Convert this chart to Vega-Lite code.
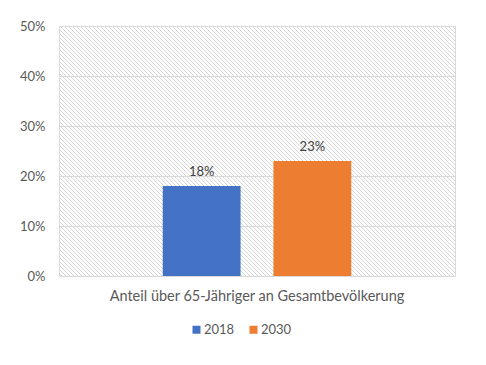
{
"$schema": "https://vega.github.io/schema/vega-lite/v6.json",
"width": 396,
"height": 250,
"autosize": {"type": "none"},
"padding": {"left": 59, "top": 26, "right": 31, "bottom": 89},
"background": "#ffffff",
"config": {
"font": "Lato",
"view": {"stroke": "#d9d9d9", "strokeWidth": 1, "fill": {"gradient": "linear", "x1": 0, "y1": 1, "x2": 1.4445, "y2": 0.0881, "stops": [
{"offset":0.00,"color":"#fff"},{"offset":0.0025,"color":"#fff"},{"offset":0.00375,"color":"#d6d6d6"},{"offset":0.005,"color":"#fff"},{"offset":0.0075,"color":"#fff"},{"offset":0.00875,"color":"#d6d6d6"},
{"offset":0.01,"color":"#fff"},{"offset":0.0125,"color":"#fff"},{"offset":0.01375,"color":"#d6d6d6"},{"offset":0.015,"color":"#fff"},{"offset":0.0175,"color":"#fff"},{"offset":0.01875,"color":"#d6d6d6"},
{"offset":0.02,"color":"#fff"},{"offset":0.0225,"color":"#fff"},{"offset":0.02375,"color":"#d6d6d6"},{"offset":0.025,"color":"#fff"},{"offset":0.0275,"color":"#fff"},{"offset":0.02875,"color":"#d6d6d6"},
{"offset":0.03,"color":"#fff"},{"offset":0.0325,"color":"#fff"},{"offset":0.03375,"color":"#d6d6d6"},{"offset":0.035,"color":"#fff"},{"offset":0.0375,"color":"#fff"},{"offset":0.03875,"color":"#d6d6d6"},
{"offset":0.04,"color":"#fff"},{"offset":0.0425,"color":"#fff"},{"offset":0.04375,"color":"#d6d6d6"},{"offset":0.045,"color":"#fff"},{"offset":0.0475,"color":"#fff"},{"offset":0.04875,"color":"#d6d6d6"},
{"offset":0.05,"color":"#fff"},{"offset":0.0525,"color":"#fff"},{"offset":0.05375,"color":"#d6d6d6"},{"offset":0.055,"color":"#fff"},{"offset":0.0575,"color":"#fff"},{"offset":0.05875,"color":"#d6d6d6"},
{"offset":0.06,"color":"#fff"},{"offset":0.0625,"color":"#fff"},{"offset":0.06375,"color":"#d6d6d6"},{"offset":0.065,"color":"#fff"},{"offset":0.0675,"color":"#fff"},{"offset":0.06875,"color":"#d6d6d6"},
{"offset":0.07,"color":"#fff"},{"offset":0.0725,"color":"#fff"},{"offset":0.07375,"color":"#d6d6d6"},{"offset":0.075,"color":"#fff"},{"offset":0.0775,"color":"#fff"},{"offset":0.07875,"color":"#d6d6d6"},
{"offset":0.08,"color":"#fff"},{"offset":0.0825,"color":"#fff"},{"offset":0.08375,"color":"#d6d6d6"},{"offset":0.085,"color":"#fff"},{"offset":0.0875,"color":"#fff"},{"offset":0.08875,"color":"#d6d6d6"},
{"offset":0.09,"color":"#fff"},{"offset":0.0925,"color":"#fff"},{"offset":0.09375,"color":"#d6d6d6"},{"offset":0.095,"color":"#fff"},{"offset":0.0975,"color":"#fff"},{"offset":0.09875,"color":"#d6d6d6"},
{"offset":0.10,"color":"#fff"},{"offset":0.1025,"color":"#fff"},{"offset":0.10375,"color":"#d6d6d6"},{"offset":0.105,"color":"#fff"},{"offset":0.1075,"color":"#fff"},{"offset":0.10875,"color":"#d6d6d6"},
{"offset":0.11,"color":"#fff"},{"offset":0.1125,"color":"#fff"},{"offset":0.11375,"color":"#d6d6d6"},{"offset":0.115,"color":"#fff"},{"offset":0.1175,"color":"#fff"},{"offset":0.11875,"color":"#d6d6d6"},
{"offset":0.12,"color":"#fff"},{"offset":0.1225,"color":"#fff"},{"offset":0.12375,"color":"#d6d6d6"},{"offset":0.125,"color":"#fff"},{"offset":0.1275,"color":"#fff"},{"offset":0.12875,"color":"#d6d6d6"},
{"offset":0.13,"color":"#fff"},{"offset":0.1325,"color":"#fff"},{"offset":0.13375,"color":"#d6d6d6"},{"offset":0.135,"color":"#fff"},{"offset":0.1375,"color":"#fff"},{"offset":0.13875,"color":"#d6d6d6"},
{"offset":0.14,"color":"#fff"},{"offset":0.1425,"color":"#fff"},{"offset":0.14375,"color":"#d6d6d6"},{"offset":0.145,"color":"#fff"},{"offset":0.1475,"color":"#fff"},{"offset":0.14875,"color":"#d6d6d6"},
{"offset":0.15,"color":"#fff"},{"offset":0.1525,"color":"#fff"},{"offset":0.15375,"color":"#d6d6d6"},{"offset":0.155,"color":"#fff"},{"offset":0.1575,"color":"#fff"},{"offset":0.15875,"color":"#d6d6d6"},
{"offset":0.16,"color":"#fff"},{"offset":0.1625,"color":"#fff"},{"offset":0.16375,"color":"#d6d6d6"},{"offset":0.165,"color":"#fff"},{"offset":0.1675,"color":"#fff"},{"offset":0.16875,"color":"#d6d6d6"},
{"offset":0.17,"color":"#fff"},{"offset":0.1725,"color":"#fff"},{"offset":0.17375,"color":"#d6d6d6"},{"offset":0.175,"color":"#fff"},{"offset":0.1775,"color":"#fff"},{"offset":0.17875,"color":"#d6d6d6"},
{"offset":0.18,"color":"#fff"},{"offset":0.1825,"color":"#fff"},{"offset":0.18375,"color":"#d6d6d6"},{"offset":0.185,"color":"#fff"},{"offset":0.1875,"color":"#fff"},{"offset":0.18875,"color":"#d6d6d6"},
{"offset":0.19,"color":"#fff"},{"offset":0.1925,"color":"#fff"},{"offset":0.19375,"color":"#d6d6d6"},{"offset":0.195,"color":"#fff"},{"offset":0.1975,"color":"#fff"},{"offset":0.19875,"color":"#d6d6d6"},
{"offset":0.20,"color":"#fff"},{"offset":0.2025,"color":"#fff"},{"offset":0.20375,"color":"#d6d6d6"},{"offset":0.205,"color":"#fff"},{"offset":0.2075,"color":"#fff"},{"offset":0.20875,"color":"#d6d6d6"},
{"offset":0.21,"color":"#fff"},{"offset":0.2125,"color":"#fff"},{"offset":0.21375,"color":"#d6d6d6"},{"offset":0.215,"color":"#fff"},{"offset":0.2175,"color":"#fff"},{"offset":0.21875,"color":"#d6d6d6"},
{"offset":0.22,"color":"#fff"},{"offset":0.2225,"color":"#fff"},{"offset":0.22375,"color":"#d6d6d6"},{"offset":0.225,"color":"#fff"},{"offset":0.2275,"color":"#fff"},{"offset":0.22875,"color":"#d6d6d6"},
{"offset":0.23,"color":"#fff"},{"offset":0.2325,"color":"#fff"},{"offset":0.23375,"color":"#d6d6d6"},{"offset":0.235,"color":"#fff"},{"offset":0.2375,"color":"#fff"},{"offset":0.23875,"color":"#d6d6d6"},
{"offset":0.24,"color":"#fff"},{"offset":0.2425,"color":"#fff"},{"offset":0.24375,"color":"#d6d6d6"},{"offset":0.245,"color":"#fff"},{"offset":0.2475,"color":"#fff"},{"offset":0.24875,"color":"#d6d6d6"},
{"offset":0.25,"color":"#fff"},{"offset":0.2525,"color":"#fff"},{"offset":0.25375,"color":"#d6d6d6"},{"offset":0.255,"color":"#fff"},{"offset":0.2575,"color":"#fff"},{"offset":0.25875,"color":"#d6d6d6"},
{"offset":0.26,"color":"#fff"},{"offset":0.2625,"color":"#fff"},{"offset":0.26375,"color":"#d6d6d6"},{"offset":0.265,"color":"#fff"},{"offset":0.2675,"color":"#fff"},{"offset":0.26875,"color":"#d6d6d6"},
{"offset":0.27,"color":"#fff"},{"offset":0.2725,"color":"#fff"},{"offset":0.27375,"color":"#d6d6d6"},{"offset":0.275,"color":"#fff"},{"offset":0.2775,"color":"#fff"},{"offset":0.27875,"color":"#d6d6d6"},
{"offset":0.28,"color":"#fff"},{"offset":0.2825,"color":"#fff"},{"offset":0.28375,"color":"#d6d6d6"},{"offset":0.285,"color":"#fff"},{"offset":0.2875,"color":"#fff"},{"offset":0.28875,"color":"#d6d6d6"},
{"offset":0.29,"color":"#fff"},{"offset":0.2925,"color":"#fff"},{"offset":0.29375,"color":"#d6d6d6"},{"offset":0.295,"color":"#fff"},{"offset":0.2975,"color":"#fff"},{"offset":0.29875,"color":"#d6d6d6"},
{"offset":0.30,"color":"#fff"},{"offset":0.3025,"color":"#fff"},{"offset":0.30375,"color":"#d6d6d6"},{"offset":0.305,"color":"#fff"},{"offset":0.3075,"color":"#fff"},{"offset":0.30875,"color":"#d6d6d6"},
{"offset":0.31,"color":"#fff"},{"offset":0.3125,"color":"#fff"},{"offset":0.31375,"color":"#d6d6d6"},{"offset":0.315,"color":"#fff"},{"offset":0.3175,"color":"#fff"},{"offset":0.31875,"color":"#d6d6d6"},
{"offset":0.32,"color":"#fff"},{"offset":0.3225,"color":"#fff"},{"offset":0.32375,"color":"#d6d6d6"},{"offset":0.325,"color":"#fff"},{"offset":0.3275,"color":"#fff"},{"offset":0.32875,"color":"#d6d6d6"},
{"offset":0.33,"color":"#fff"},{"offset":0.3325,"color":"#fff"},{"offset":0.33375,"color":"#d6d6d6"},{"offset":0.335,"color":"#fff"},{"offset":0.3375,"color":"#fff"},{"offset":0.33875,"color":"#d6d6d6"},
{"offset":0.34,"color":"#fff"},{"offset":0.3425,"color":"#fff"},{"offset":0.34375,"color":"#d6d6d6"},{"offset":0.345,"color":"#fff"},{"offset":0.3475,"color":"#fff"},{"offset":0.34875,"color":"#d6d6d6"},
{"offset":0.35,"color":"#fff"},{"offset":0.3525,"color":"#fff"},{"offset":0.35375,"color":"#d6d6d6"},{"offset":0.355,"color":"#fff"},{"offset":0.3575,"color":"#fff"},{"offset":0.35875,"color":"#d6d6d6"},
{"offset":0.36,"color":"#fff"},{"offset":0.3625,"color":"#fff"},{"offset":0.36375,"color":"#d6d6d6"},{"offset":0.365,"color":"#fff"},{"offset":0.3675,"color":"#fff"},{"offset":0.36875,"color":"#d6d6d6"},
{"offset":0.37,"color":"#fff"},{"offset":0.3725,"color":"#fff"},{"offset":0.37375,"color":"#d6d6d6"},{"offset":0.375,"color":"#fff"},{"offset":0.3775,"color":"#fff"},{"offset":0.37875,"color":"#d6d6d6"},
{"offset":0.38,"color":"#fff"},{"offset":0.3825,"color":"#fff"},{"offset":0.38375,"color":"#d6d6d6"},{"offset":0.385,"color":"#fff"},{"offset":0.3875,"color":"#fff"},{"offset":0.38875,"color":"#d6d6d6"},
{"offset":0.39,"color":"#fff"},{"offset":0.3925,"color":"#fff"},{"offset":0.39375,"color":"#d6d6d6"},{"offset":0.395,"color":"#fff"},{"offset":0.3975,"color":"#fff"},{"offset":0.39875,"color":"#d6d6d6"},
{"offset":0.40,"color":"#fff"},{"offset":0.4025,"color":"#fff"},{"offset":0.40375,"color":"#d6d6d6"},{"offset":0.405,"color":"#fff"},{"offset":0.4075,"color":"#fff"},{"offset":0.40875,"color":"#d6d6d6"},
{"offset":0.41,"color":"#fff"},{"offset":0.4125,"color":"#fff"},{"offset":0.41375,"color":"#d6d6d6"},{"offset":0.415,"color":"#fff"},{"offset":0.4175,"color":"#fff"},{"offset":0.41875,"color":"#d6d6d6"},
{"offset":0.42,"color":"#fff"},{"offset":0.4225,"color":"#fff"},{"offset":0.42375,"color":"#d6d6d6"},{"offset":0.425,"color":"#fff"},{"offset":0.4275,"color":"#fff"},{"offset":0.42875,"color":"#d6d6d6"},
{"offset":0.43,"color":"#fff"},{"offset":0.4325,"color":"#fff"},{"offset":0.43375,"color":"#d6d6d6"},{"offset":0.435,"color":"#fff"},{"offset":0.4375,"color":"#fff"},{"offset":0.43875,"color":"#d6d6d6"},
{"offset":0.44,"color":"#fff"},{"offset":0.4425,"color":"#fff"},{"offset":0.44375,"color":"#d6d6d6"},{"offset":0.445,"color":"#fff"},{"offset":0.4475,"color":"#fff"},{"offset":0.44875,"color":"#d6d6d6"},
{"offset":0.45,"color":"#fff"},{"offset":0.4525,"color":"#fff"},{"offset":0.45375,"color":"#d6d6d6"},{"offset":0.455,"color":"#fff"},{"offset":0.4575,"color":"#fff"},{"offset":0.45875,"color":"#d6d6d6"},
{"offset":0.46,"color":"#fff"},{"offset":0.4625,"color":"#fff"},{"offset":0.46375,"color":"#d6d6d6"},{"offset":0.465,"color":"#fff"},{"offset":0.4675,"color":"#fff"},{"offset":0.46875,"color":"#d6d6d6"},
{"offset":0.47,"color":"#fff"},{"offset":0.4725,"color":"#fff"},{"offset":0.47375,"color":"#d6d6d6"},{"offset":0.475,"color":"#fff"},{"offset":0.4775,"color":"#fff"},{"offset":0.47875,"color":"#d6d6d6"},
{"offset":0.48,"color":"#fff"},{"offset":0.4825,"color":"#fff"},{"offset":0.48375,"color":"#d6d6d6"},{"offset":0.485,"color":"#fff"},{"offset":0.4875,"color":"#fff"},{"offset":0.48875,"color":"#d6d6d6"},
{"offset":0.49,"color":"#fff"},{"offset":0.4925,"color":"#fff"},{"offset":0.49375,"color":"#d6d6d6"},{"offset":0.495,"color":"#fff"},{"offset":0.4975,"color":"#fff"},{"offset":0.49875,"color":"#d6d6d6"},
{"offset":0.50,"color":"#fff"},{"offset":0.5025,"color":"#fff"},{"offset":0.50375,"color":"#d6d6d6"},{"offset":0.505,"color":"#fff"},{"offset":0.5075,"color":"#fff"},{"offset":0.50875,"color":"#d6d6d6"},
{"offset":0.51,"color":"#fff"},{"offset":0.5125,"color":"#fff"},{"offset":0.51375,"color":"#d6d6d6"},{"offset":0.515,"color":"#fff"},{"offset":0.5175,"color":"#fff"},{"offset":0.51875,"color":"#d6d6d6"},
{"offset":0.52,"color":"#fff"},{"offset":0.5225,"color":"#fff"},{"offset":0.52375,"color":"#d6d6d6"},{"offset":0.525,"color":"#fff"},{"offset":0.5275,"color":"#fff"},{"offset":0.52875,"color":"#d6d6d6"},
{"offset":0.53,"color":"#fff"},{"offset":0.5325,"color":"#fff"},{"offset":0.53375,"color":"#d6d6d6"},{"offset":0.535,"color":"#fff"},{"offset":0.5375,"color":"#fff"},{"offset":0.53875,"color":"#d6d6d6"},
{"offset":0.54,"color":"#fff"},{"offset":0.5425,"color":"#fff"},{"offset":0.54375,"color":"#d6d6d6"},{"offset":0.545,"color":"#fff"},{"offset":0.5475,"color":"#fff"},{"offset":0.54875,"color":"#d6d6d6"},
{"offset":0.55,"color":"#fff"},{"offset":0.5525,"color":"#fff"},{"offset":0.55375,"color":"#d6d6d6"},{"offset":0.555,"color":"#fff"},{"offset":0.5575,"color":"#fff"},{"offset":0.55875,"color":"#d6d6d6"},
{"offset":0.56,"color":"#fff"},{"offset":0.5625,"color":"#fff"},{"offset":0.56375,"color":"#d6d6d6"},{"offset":0.565,"color":"#fff"},{"offset":0.5675,"color":"#fff"},{"offset":0.56875,"color":"#d6d6d6"},
{"offset":0.57,"color":"#fff"},{"offset":0.5725,"color":"#fff"},{"offset":0.57375,"color":"#d6d6d6"},{"offset":0.575,"color":"#fff"},{"offset":0.5775,"color":"#fff"},{"offset":0.57875,"color":"#d6d6d6"},
{"offset":0.58,"color":"#fff"},{"offset":0.5825,"color":"#fff"},{"offset":0.58375,"color":"#d6d6d6"},{"offset":0.585,"color":"#fff"},{"offset":0.5875,"color":"#fff"},{"offset":0.58875,"color":"#d6d6d6"},
{"offset":0.59,"color":"#fff"},{"offset":0.5925,"color":"#fff"},{"offset":0.59375,"color":"#d6d6d6"},{"offset":0.595,"color":"#fff"},{"offset":0.5975,"color":"#fff"},{"offset":0.59875,"color":"#d6d6d6"},
{"offset":0.60,"color":"#fff"},{"offset":0.6025,"color":"#fff"},{"offset":0.60375,"color":"#d6d6d6"},{"offset":0.605,"color":"#fff"},{"offset":0.6075,"color":"#fff"},{"offset":0.60875,"color":"#d6d6d6"},
{"offset":0.61,"color":"#fff"},{"offset":0.6125,"color":"#fff"},{"offset":0.61375,"color":"#d6d6d6"},{"offset":0.615,"color":"#fff"},{"offset":0.6175,"color":"#fff"},{"offset":0.61875,"color":"#d6d6d6"},
{"offset":0.62,"color":"#fff"},{"offset":0.6225,"color":"#fff"},{"offset":0.62375,"color":"#d6d6d6"},{"offset":0.625,"color":"#fff"},{"offset":0.6275,"color":"#fff"},{"offset":0.62875,"color":"#d6d6d6"},
{"offset":0.63,"color":"#fff"},{"offset":0.6325,"color":"#fff"},{"offset":0.63375,"color":"#d6d6d6"},{"offset":0.635,"color":"#fff"},{"offset":0.6375,"color":"#fff"},{"offset":0.63875,"color":"#d6d6d6"},
{"offset":0.64,"color":"#fff"},{"offset":0.6425,"color":"#fff"},{"offset":0.64375,"color":"#d6d6d6"},{"offset":0.645,"color":"#fff"},{"offset":0.6475,"color":"#fff"},{"offset":0.64875,"color":"#d6d6d6"},
{"offset":0.65,"color":"#fff"},{"offset":0.6525,"color":"#fff"},{"offset":0.65375,"color":"#d6d6d6"},{"offset":0.655,"color":"#fff"},{"offset":0.6575,"color":"#fff"},{"offset":0.65875,"color":"#d6d6d6"},
{"offset":0.66,"color":"#fff"},{"offset":0.6625,"color":"#fff"},{"offset":0.66375,"color":"#d6d6d6"},{"offset":0.665,"color":"#fff"},{"offset":0.6675,"color":"#fff"},{"offset":0.66875,"color":"#d6d6d6"},
{"offset":0.67,"color":"#fff"},{"offset":0.6725,"color":"#fff"},{"offset":0.67375,"color":"#d6d6d6"},{"offset":0.675,"color":"#fff"},{"offset":0.6775,"color":"#fff"},{"offset":0.67875,"color":"#d6d6d6"},
{"offset":0.68,"color":"#fff"},{"offset":0.6825,"color":"#fff"},{"offset":0.68375,"color":"#d6d6d6"},{"offset":0.685,"color":"#fff"},{"offset":0.6875,"color":"#fff"},{"offset":0.68875,"color":"#d6d6d6"},
{"offset":0.69,"color":"#fff"},{"offset":0.6925,"color":"#fff"},{"offset":0.69375,"color":"#d6d6d6"},{"offset":0.695,"color":"#fff"},{"offset":0.6975,"color":"#fff"},{"offset":0.69875,"color":"#d6d6d6"},
{"offset":0.70,"color":"#fff"},{"offset":0.7025,"color":"#fff"},{"offset":0.70375,"color":"#d6d6d6"},{"offset":0.705,"color":"#fff"},{"offset":0.7075,"color":"#fff"},{"offset":0.70875,"color":"#d6d6d6"},
{"offset":0.71,"color":"#fff"},{"offset":0.7125,"color":"#fff"},{"offset":0.71375,"color":"#d6d6d6"},{"offset":0.715,"color":"#fff"},{"offset":0.7175,"color":"#fff"},{"offset":0.71875,"color":"#d6d6d6"},
{"offset":0.72,"color":"#fff"},{"offset":0.7225,"color":"#fff"},{"offset":0.72375,"color":"#d6d6d6"},{"offset":0.725,"color":"#fff"},{"offset":0.7275,"color":"#fff"},{"offset":0.72875,"color":"#d6d6d6"},
{"offset":0.73,"color":"#fff"},{"offset":0.7325,"color":"#fff"},{"offset":0.73375,"color":"#d6d6d6"},{"offset":0.735,"color":"#fff"},{"offset":0.7375,"color":"#fff"},{"offset":0.73875,"color":"#d6d6d6"},
{"offset":0.74,"color":"#fff"},{"offset":0.7425,"color":"#fff"},{"offset":0.74375,"color":"#d6d6d6"},{"offset":0.745,"color":"#fff"},{"offset":0.7475,"color":"#fff"},{"offset":0.74875,"color":"#d6d6d6"},
{"offset":0.75,"color":"#fff"},{"offset":0.7525,"color":"#fff"},{"offset":0.75375,"color":"#d6d6d6"},{"offset":0.755,"color":"#fff"},{"offset":0.7575,"color":"#fff"},{"offset":0.75875,"color":"#d6d6d6"},
{"offset":0.76,"color":"#fff"},{"offset":0.7625,"color":"#fff"},{"offset":0.76375,"color":"#d6d6d6"},{"offset":0.765,"color":"#fff"},{"offset":0.7675,"color":"#fff"},{"offset":0.76875,"color":"#d6d6d6"},
{"offset":0.77,"color":"#fff"},{"offset":0.7725,"color":"#fff"},{"offset":0.77375,"color":"#d6d6d6"},{"offset":0.775,"color":"#fff"},{"offset":0.7775,"color":"#fff"},{"offset":0.77875,"color":"#d6d6d6"},
{"offset":0.78,"color":"#fff"},{"offset":0.7825,"color":"#fff"},{"offset":0.78375,"color":"#d6d6d6"},{"offset":0.785,"color":"#fff"},{"offset":0.7875,"color":"#fff"},{"offset":0.78875,"color":"#d6d6d6"},
{"offset":0.79,"color":"#fff"},{"offset":0.7925,"color":"#fff"},{"offset":0.79375,"color":"#d6d6d6"},{"offset":0.795,"color":"#fff"},{"offset":0.7975,"color":"#fff"},{"offset":0.79875,"color":"#d6d6d6"},
{"offset":0.80,"color":"#fff"},{"offset":0.8025,"color":"#fff"},{"offset":0.80375,"color":"#d6d6d6"},{"offset":0.805,"color":"#fff"},{"offset":0.8075,"color":"#fff"},{"offset":0.80875,"color":"#d6d6d6"},
{"offset":0.81,"color":"#fff"}
]}},
"axis": {"labelColor": "#595959", "labelFontSize": 13, "labelFont": "Lato"}
},
"data": {"values": [
{"category": "Anteil über 65-Jähriger an Gesamtbevölkerung", "year": "2018", "share": 0.18},
{"category": "Anteil über 65-Jähriger an Gesamtbevölkerung", "year": "2030", "share": 0.23}
]},
"encoding": {
"x": {"field": "category", "type": "nominal", "scale": {"paddingInner": 0, "paddingOuter": 0},
 "axis": {"title": null, "ticks": false, "domain": false, "labelPadding": 13, "labelLimit": 600, "labelAngle": 0, "labelFontSize": 14.5}},
"xOffset": {"field": "year", "type": "nominal", "scale": {"domain": ["2018", "2030"], "paddingInner": 0.297, "paddingOuter": 0.937}},
"y": {"field": "share", "type": "quantitative", "scale": {"domain": [0, 0.5]},
 "axis": {"title": null, "values": [0, 0.1, 0.2, 0.3, 0.4, 0.5], "format": ".0%", "grid": true, "gridColor": "#d9d9d9", "domain": false, "ticks": false, "labelPadding": 14}}
},
"layer": [
{"mark": {"type": "bar"},
 "encoding": {"color": {"field": "year", "type": "nominal", "scale": {"domain": ["2018", "2030"], "range": ["#4472C4", "#ED7D31"]},
  "legend": {"title": null, "orient": "none", "legendX": 131, "legendY": 297, "direction": "horizontal", "symbolType": "square", "symbolSize": 64, "symbolStrokeWidth": 0, "labelFontSize": 13, "labelColor": "#595959", "labelFont": "Lato", "columnPadding": 12, "labelOffset": 1}}}},
{"mark": {"type": "text", "baseline": "bottom", "dy": -7, "fontSize": 13, "color": "#404040", "font": "Lato"},
 "encoding": {"text": {"field": "share", "type": "quantitative", "format": ".0%"}}}
]
}
